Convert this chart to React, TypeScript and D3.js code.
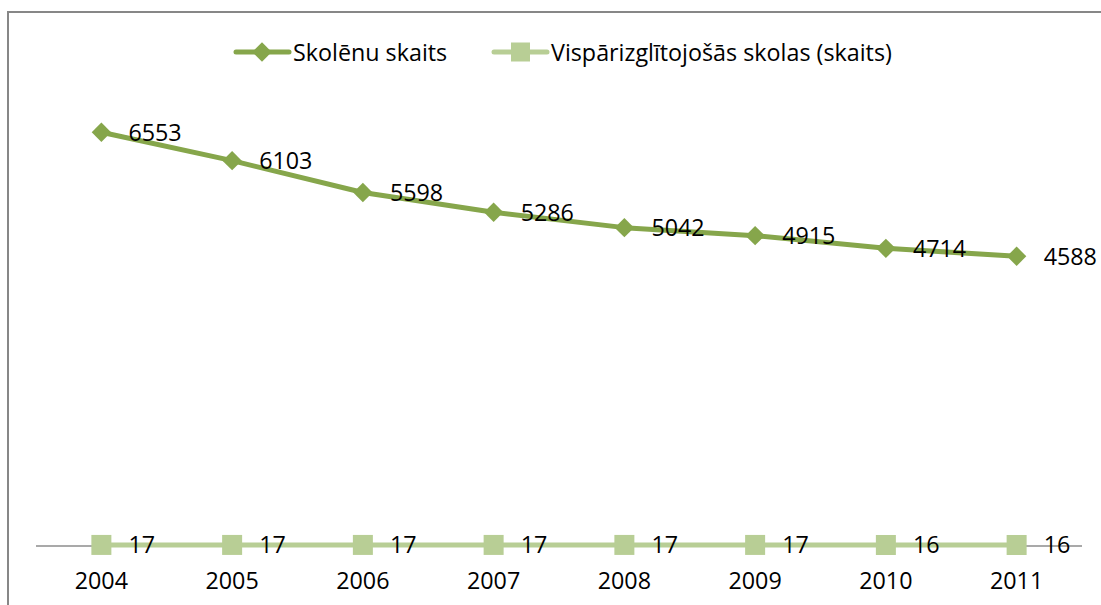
import React, { useEffect, useRef } from "react";
import * as d3 from "d3";

const years = ["2004", "2005", "2006", "2007", "2008", "2009", "2010", "2011"];
const pupils = [6553, 6103, 5598, 5286, 5042, 4915, 4714, 4588];
const schools = [17, 17, 17, 17, 17, 17, 16, 16];
const seriesNames = ["Skolēnu skaits", "Vispārizglītojošās skolas (skaits)"];

const W = 1101;
const H = 605;
const FONT = "'Open Sans', 'Liberation Sans', sans-serif";
const FS = 23.3;
const DARK = "#86A64B";
const LIGHT = "#B8CE95";

export default function App() {
  const ref = useRef<SVGSVGElement | null>(null);

  useEffect(() => {
    const svg = d3.select(ref.current);
    svg.selectAll("*").remove();

    const x = d3.scaleBand<string>().domain(years).range([36, 1082]);
    const y = d3.scaleLinear().domain([0, 7000]).range([546, 104]);
    const cx = (d: string) => (x(d) as number) + x.bandwidth() / 2;

    // chart border (cropped at right/bottom)
    svg.append("rect")
      .attr("x", 8).attr("y", 12).attr("width", 1300).attr("height", 800)
      .attr("fill", "white").attr("stroke", "#878787").attr("stroke-width", 2);

    // axis line
    svg.append("line")
      .attr("x1", x.range()[0]).attr("x2", x.range()[1])
      .attr("y1", y(0)).attr("y2", y(0))
      .attr("stroke", "#8c8c8c").attr("stroke-width", 1.3);

    // year labels
    svg.append("g").selectAll("text").data(years).join("text")
      .attr("x", (d) => cx(d)).attr("y", 589)
      .attr("text-anchor", "middle")
      .attr("font-family", FONT).attr("font-size", FS)
      .attr("fill", "#000")
      .text((d) => d);

    const line = d3.line<number>()
      .x((_, i) => cx(years[i]))
      .y((d) => y(d));

    const diamond = d3.symbol().type(d3.symbolDiamond2).size(240);

    // schools series
    svg.append("path").datum(schools).attr("d", line)
      .attr("fill", "none").attr("stroke", LIGHT).attr("stroke-width", 5);
    svg.append("g").selectAll("rect").data(schools).join("rect")
      .attr("x", (_, i) => cx(years[i]) - 10).attr("y", (d) => y(d) - 10)
      .attr("width", 20).attr("height", 20).attr("fill", LIGHT);

    // pupils series
    svg.append("path").datum(pupils).attr("d", line)
      .attr("fill", "none").attr("stroke", DARK).attr("stroke-width", 5)
      .attr("stroke-linejoin", "round");
    svg.append("g").selectAll("path").data(pupils).join("path")
      .attr("d", diamond as any)
      .attr("transform", (d, i) => `translate(${cx(years[i])},${y(d)})`)
      .attr("fill", DARK);

    // data labels
    const labels = (data: number[]) =>
      svg.append("g").selectAll("text").data(data).join("text")
        .attr("x", (_, i) => cx(years[i]) + 27)
        .attr("y", (d) => y(d) + 8.5)
        .attr("font-family", FONT).attr("font-size", FS)
        .attr("fill", "#000")
        .text((d) => String(d));
    labels(pupils);
    labels(schools);

    // legend
    const lg = svg.append("g");
    const ly = 52;
    lg.append("line").attr("x1", 236).attr("x2", 289).attr("y1", ly).attr("y2", ly)
      .attr("stroke", DARK).attr("stroke-width", 5).attr("stroke-linecap", "round");
    lg.append("path").attr("d", diamond as any)
      .attr("transform", `translate(262,${ly})`).attr("fill", DARK);
    lg.append("text").attr("x", 293).attr("y", ly + 8.5)
      .attr("font-family", FONT).attr("font-size", FS).text(seriesNames[0]);

    lg.append("line").attr("x1", 494).attr("x2", 547).attr("y1", ly).attr("y2", ly)
      .attr("stroke", LIGHT).attr("stroke-width", 5).attr("stroke-linecap", "round");
    lg.append("rect").attr("x", 511).attr("y", ly - 9.5).attr("width", 19).attr("height", 19)
      .attr("fill", LIGHT);
    lg.append("text").attr("x", 551).attr("y", ly + 8.5)
      .attr("font-family", FONT).attr("font-size", FS).text(seriesNames[1]);
  }, []);

  return (
    <svg
      ref={ref}
      width={W}
      height={H}
      style={{ position: "absolute", left: 0, top: 0, background: "white" }}
    />
  );
}
